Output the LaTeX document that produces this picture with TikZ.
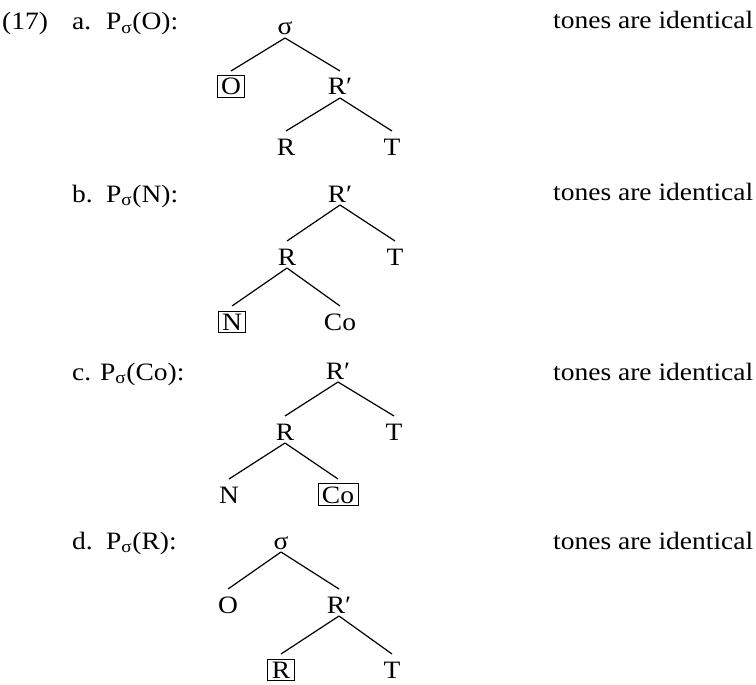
\documentclass[tikz,border=0pt]{standalone}
\usepackage{fontspec}
\setmainfont{Liberation Serif}[FakeStretch=1.1]
\usetikzlibrary{calc}
\begin{document}
\begin{tikzpicture}[x=1pt,y=-1pt,
  every node/.style={font=\fontsize{25}{30}\selectfont},
  lab/.style={anchor=base west,inner sep=0pt},
  tn/.style={anchor=base,inner sep=0pt},
  bx/.style={anchor=base,draw,line width=0.9pt,inner xsep=4pt,inner ysep=2.5pt},
  br/.style={line width=1.2pt}]
\newcommand{\branch}[2]{\draw[br] ($(#1.base)+(0,3)$) -- ($(#2.base)+(0,-24)$);}
\useasboundingbox (0,0) rectangle (756,685);
% labels
\node[lab] (n17) at (2,30) {(17)};
\node[lab] (la) at (72,30) {a.};
\node[lab] (pa) at (106,30) {P\textsubscript{σ}(O):};
\node[lab] (lb) at (72,202) {b.};
\node[lab] (pb) at (106,202) {P\textsubscript{σ}(N):};
\node[lab] (lc) at (72,380) {c.};
\node[lab] (pc) at (100,380) {P\textsubscript{σ}(Co):};
\node[lab] (ld) at (72,549) {d.};
\node[lab] (pd) at (106,549) {P\textsubscript{σ}(R):};
\node[lab] (ia) at (553,29) {tones are identical};
\node[lab] (ib) at (553,200) {tones are identical};
\node[lab] (ic) at (553,380) {tones are identical};
\node[lab] (id) at (553,549) {tones are identical};
% tree a
\node[tn] (sa) at (285,35) {σ};
\node[bx] (oa) at (231,95) {O};
\node[tn] (rpa) at (340,95) {R′};
\node[tn] (ra) at (286,155) {R};
\node[tn] (ta) at (392,155) {T};
\branch{sa}{oa}
\branch{sa}{rpa}
\branch{rpa}{ra}
\branch{rpa}{ta}
% tree b
\node[tn] (rpb) at (340,202) {R′};
\node[tn] (rb) at (287,265) {R};
\node[tn] (tb) at (395,265) {T};
\node[bx] (nb) at (232,330) {N};
\node[tn] (cob) at (340,330) {Co};
\branch{rpb}{rb}
\branch{rpb}{tb}
\branch{rb}{nb}
\branch{rb}{cob}
% tree c
\node[tn] (rpc) at (338,379) {R′};
\node[tn] (rc) at (285,440) {R};
\node[tn] (tc) at (394,440) {T};
\node[tn] (nc) at (229,503) {N};
\node[bx] (coc) at (338,503) {Co};
\branch{rpc}{rc}
\branch{rpc}{tc}
\branch{rc}{nc}
\branch{rc}{coc}
% tree d
\node[tn] (sd) at (281,549) {σ};
\node[tn] (od) at (228,613) {O};
\node[tn] (rpd) at (339,613) {R′};
\node[bx] (rd) at (281,678) {R};
\node[tn] (td) at (392,678) {T};
\branch{sd}{od}
\branch{sd}{rpd}
\branch{rpd}{rd}
\branch{rpd}{td}
\end{tikzpicture}
\end{document}
